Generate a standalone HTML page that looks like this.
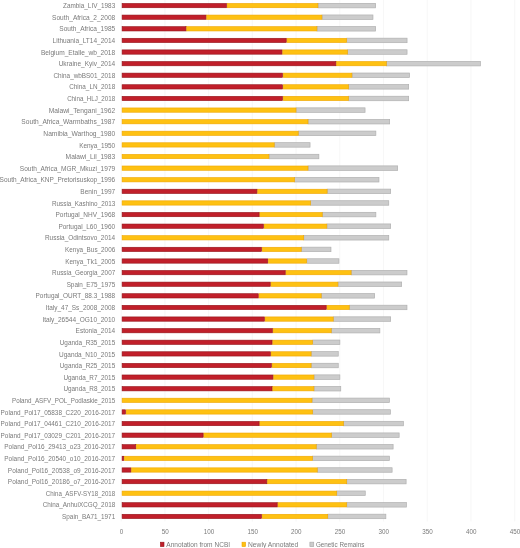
<!DOCTYPE html>
<html><head><meta charset="utf-8"><title>chart</title>
<style>html,body{margin:0;padding:0;background:#fff}svg{display:block;will-change:transform}text{font-family:"Liberation Sans",sans-serif;fill:#7a7a7a}</style></head><body>
<svg width="520" height="548" viewBox="0 0 520 548">
<rect width="520" height="548" fill="#fff"/>
<line x1="121.20" y1="0" x2="121.20" y2="521.5" stroke="#f3f3f3" stroke-width="0.7"/>
<line x1="164.92" y1="0" x2="164.92" y2="521.5" stroke="#f3f3f3" stroke-width="0.7"/>
<line x1="208.64" y1="0" x2="208.64" y2="521.5" stroke="#f3f3f3" stroke-width="0.7"/>
<line x1="252.36" y1="0" x2="252.36" y2="521.5" stroke="#f3f3f3" stroke-width="0.7"/>
<line x1="296.08" y1="0" x2="296.08" y2="521.5" stroke="#f3f3f3" stroke-width="0.7"/>
<line x1="339.80" y1="0" x2="339.80" y2="521.5" stroke="#f3f3f3" stroke-width="0.7"/>
<line x1="383.52" y1="0" x2="383.52" y2="521.5" stroke="#f3f3f3" stroke-width="0.7"/>
<line x1="427.24" y1="0" x2="427.24" y2="521.5" stroke="#f3f3f3" stroke-width="0.7"/>
<line x1="470.96" y1="0" x2="470.96" y2="521.5" stroke="#f3f3f3" stroke-width="0.7"/>
<line x1="514.68" y1="0" x2="514.68" y2="521.5" stroke="#f3f3f3" stroke-width="0.7"/>
<rect x="318.05" y="3.35" width="57.60" height="4.50" fill="#cccccc" stroke="#b0b0b0" stroke-width="0.7"/>
<rect x="227.10" y="3.45" width="90.80" height="4.30" fill="#fec112" stroke="#efa500" stroke-width="0.6"/>
<rect x="122.10" y="3.45" width="104.40" height="4.30" fill="#c11f2a" stroke="#931319" stroke-width="0.6"/>
<rect x="322.05" y="14.96" width="50.90" height="4.50" fill="#cccccc" stroke="#b0b0b0" stroke-width="0.7"/>
<rect x="206.50" y="15.06" width="115.40" height="4.30" fill="#fec112" stroke="#efa500" stroke-width="0.6"/>
<rect x="122.10" y="15.06" width="83.80" height="4.30" fill="#c11f2a" stroke="#931319" stroke-width="0.6"/>
<rect x="317.05" y="26.57" width="58.60" height="4.50" fill="#cccccc" stroke="#b0b0b0" stroke-width="0.7"/>
<rect x="186.50" y="26.67" width="130.40" height="4.30" fill="#fec112" stroke="#efa500" stroke-width="0.6"/>
<rect x="122.10" y="26.67" width="63.80" height="4.30" fill="#c11f2a" stroke="#931319" stroke-width="0.6"/>
<rect x="346.75" y="38.18" width="60.30" height="4.50" fill="#cccccc" stroke="#b0b0b0" stroke-width="0.7"/>
<rect x="286.80" y="38.28" width="59.80" height="4.30" fill="#fec112" stroke="#efa500" stroke-width="0.6"/>
<rect x="122.10" y="38.28" width="164.10" height="4.30" fill="#c11f2a" stroke="#931319" stroke-width="0.6"/>
<rect x="347.65" y="49.79" width="59.40" height="4.50" fill="#cccccc" stroke="#b0b0b0" stroke-width="0.7"/>
<rect x="282.50" y="49.89" width="65.00" height="4.30" fill="#fec112" stroke="#efa500" stroke-width="0.6"/>
<rect x="122.10" y="49.89" width="159.80" height="4.30" fill="#c11f2a" stroke="#931319" stroke-width="0.6"/>
<rect x="386.45" y="61.40" width="93.90" height="4.50" fill="#cccccc" stroke="#b0b0b0" stroke-width="0.7"/>
<rect x="336.40" y="61.50" width="49.90" height="4.30" fill="#fec112" stroke="#efa500" stroke-width="0.6"/>
<rect x="122.10" y="61.50" width="213.70" height="4.30" fill="#c11f2a" stroke="#931319" stroke-width="0.6"/>
<rect x="352.05" y="73.01" width="57.50" height="4.50" fill="#cccccc" stroke="#b0b0b0" stroke-width="0.7"/>
<rect x="283.10" y="73.11" width="68.80" height="4.30" fill="#fec112" stroke="#efa500" stroke-width="0.6"/>
<rect x="122.10" y="73.11" width="160.40" height="4.30" fill="#c11f2a" stroke="#931319" stroke-width="0.6"/>
<rect x="348.65" y="84.62" width="60.00" height="4.50" fill="#cccccc" stroke="#b0b0b0" stroke-width="0.7"/>
<rect x="283.10" y="84.72" width="65.40" height="4.30" fill="#fec112" stroke="#efa500" stroke-width="0.6"/>
<rect x="122.10" y="84.72" width="160.40" height="4.30" fill="#c11f2a" stroke="#931319" stroke-width="0.6"/>
<rect x="348.65" y="96.23" width="60.00" height="4.50" fill="#cccccc" stroke="#b0b0b0" stroke-width="0.7"/>
<rect x="283.10" y="96.33" width="65.40" height="4.30" fill="#fec112" stroke="#efa500" stroke-width="0.6"/>
<rect x="122.10" y="96.33" width="160.40" height="4.30" fill="#c11f2a" stroke="#931319" stroke-width="0.6"/>
<rect x="296.15" y="107.84" width="68.90" height="4.50" fill="#cccccc" stroke="#b0b0b0" stroke-width="0.7"/>
<rect x="122.10" y="107.94" width="173.90" height="4.30" fill="#fec112" stroke="#efa500" stroke-width="0.6"/>
<rect x="308.15" y="119.45" width="81.50" height="4.50" fill="#cccccc" stroke="#b0b0b0" stroke-width="0.7"/>
<rect x="122.10" y="119.55" width="185.90" height="4.30" fill="#fec112" stroke="#efa500" stroke-width="0.6"/>
<rect x="298.35" y="131.06" width="77.50" height="4.50" fill="#cccccc" stroke="#b0b0b0" stroke-width="0.7"/>
<rect x="122.10" y="131.16" width="176.10" height="4.30" fill="#fec112" stroke="#efa500" stroke-width="0.6"/>
<rect x="274.35" y="142.67" width="35.70" height="4.50" fill="#cccccc" stroke="#b0b0b0" stroke-width="0.7"/>
<rect x="122.10" y="142.77" width="152.10" height="4.30" fill="#fec112" stroke="#efa500" stroke-width="0.6"/>
<rect x="269.05" y="154.28" width="49.80" height="4.50" fill="#cccccc" stroke="#b0b0b0" stroke-width="0.7"/>
<rect x="122.10" y="154.38" width="146.80" height="4.30" fill="#fec112" stroke="#efa500" stroke-width="0.6"/>
<rect x="308.15" y="165.89" width="89.50" height="4.50" fill="#cccccc" stroke="#b0b0b0" stroke-width="0.7"/>
<rect x="122.10" y="165.99" width="185.90" height="4.30" fill="#fec112" stroke="#efa500" stroke-width="0.6"/>
<rect x="294.65" y="177.50" width="84.30" height="4.50" fill="#cccccc" stroke="#b0b0b0" stroke-width="0.7"/>
<rect x="122.10" y="177.60" width="172.40" height="4.30" fill="#fec112" stroke="#efa500" stroke-width="0.6"/>
<rect x="327.25" y="189.11" width="63.40" height="4.50" fill="#cccccc" stroke="#b0b0b0" stroke-width="0.7"/>
<rect x="257.50" y="189.21" width="69.60" height="4.30" fill="#fec112" stroke="#efa500" stroke-width="0.6"/>
<rect x="122.10" y="189.21" width="134.80" height="4.30" fill="#c11f2a" stroke="#931319" stroke-width="0.6"/>
<rect x="310.65" y="200.72" width="78.10" height="4.50" fill="#cccccc" stroke="#b0b0b0" stroke-width="0.7"/>
<rect x="122.10" y="200.82" width="188.40" height="4.30" fill="#fec112" stroke="#efa500" stroke-width="0.6"/>
<rect x="322.35" y="212.33" width="53.50" height="4.50" fill="#cccccc" stroke="#b0b0b0" stroke-width="0.7"/>
<rect x="259.70" y="212.43" width="62.50" height="4.30" fill="#fec112" stroke="#efa500" stroke-width="0.6"/>
<rect x="122.10" y="212.43" width="137.00" height="4.30" fill="#c11f2a" stroke="#931319" stroke-width="0.6"/>
<rect x="326.95" y="223.94" width="63.70" height="4.50" fill="#cccccc" stroke="#b0b0b0" stroke-width="0.7"/>
<rect x="264.00" y="224.04" width="62.80" height="4.30" fill="#fec112" stroke="#efa500" stroke-width="0.6"/>
<rect x="122.10" y="224.04" width="141.30" height="4.30" fill="#c11f2a" stroke="#931319" stroke-width="0.6"/>
<rect x="303.85" y="235.55" width="84.90" height="4.50" fill="#cccccc" stroke="#b0b0b0" stroke-width="0.7"/>
<rect x="122.10" y="235.65" width="181.60" height="4.30" fill="#fec112" stroke="#efa500" stroke-width="0.6"/>
<rect x="301.35" y="247.16" width="29.60" height="4.50" fill="#cccccc" stroke="#b0b0b0" stroke-width="0.7"/>
<rect x="262.10" y="247.26" width="39.10" height="4.30" fill="#fec112" stroke="#efa500" stroke-width="0.6"/>
<rect x="122.10" y="247.26" width="139.40" height="4.30" fill="#c11f2a" stroke="#931319" stroke-width="0.6"/>
<rect x="306.85" y="258.77" width="32.10" height="4.50" fill="#cccccc" stroke="#b0b0b0" stroke-width="0.7"/>
<rect x="268.30" y="258.87" width="38.40" height="4.30" fill="#fec112" stroke="#efa500" stroke-width="0.6"/>
<rect x="122.10" y="258.87" width="145.60" height="4.30" fill="#c11f2a" stroke="#931319" stroke-width="0.6"/>
<rect x="351.25" y="270.38" width="55.70" height="4.50" fill="#cccccc" stroke="#b0b0b0" stroke-width="0.7"/>
<rect x="285.80" y="270.48" width="65.30" height="4.30" fill="#fec112" stroke="#efa500" stroke-width="0.6"/>
<rect x="122.10" y="270.48" width="163.10" height="4.30" fill="#c11f2a" stroke="#931319" stroke-width="0.6"/>
<rect x="338.05" y="281.99" width="63.60" height="4.50" fill="#cccccc" stroke="#b0b0b0" stroke-width="0.7"/>
<rect x="270.80" y="282.09" width="67.10" height="4.30" fill="#fec112" stroke="#efa500" stroke-width="0.6"/>
<rect x="122.10" y="282.09" width="148.10" height="4.30" fill="#c11f2a" stroke="#931319" stroke-width="0.6"/>
<rect x="321.35" y="293.60" width="53.30" height="4.50" fill="#cccccc" stroke="#b0b0b0" stroke-width="0.7"/>
<rect x="258.80" y="293.70" width="62.40" height="4.30" fill="#fec112" stroke="#efa500" stroke-width="0.6"/>
<rect x="122.10" y="293.70" width="136.10" height="4.30" fill="#c11f2a" stroke="#931319" stroke-width="0.6"/>
<rect x="349.35" y="305.21" width="57.60" height="4.50" fill="#cccccc" stroke="#b0b0b0" stroke-width="0.7"/>
<rect x="326.80" y="305.31" width="22.40" height="4.30" fill="#fec112" stroke="#efa500" stroke-width="0.6"/>
<rect x="122.10" y="305.31" width="204.10" height="4.30" fill="#c11f2a" stroke="#931319" stroke-width="0.6"/>
<rect x="333.35" y="316.82" width="57.30" height="4.50" fill="#cccccc" stroke="#b0b0b0" stroke-width="0.7"/>
<rect x="264.90" y="316.92" width="68.30" height="4.30" fill="#fec112" stroke="#efa500" stroke-width="0.6"/>
<rect x="122.10" y="316.92" width="142.20" height="4.30" fill="#c11f2a" stroke="#931319" stroke-width="0.6"/>
<rect x="331.35" y="328.43" width="48.50" height="4.50" fill="#cccccc" stroke="#b0b0b0" stroke-width="0.7"/>
<rect x="272.90" y="328.53" width="58.30" height="4.30" fill="#fec112" stroke="#efa500" stroke-width="0.6"/>
<rect x="122.10" y="328.53" width="150.20" height="4.30" fill="#c11f2a" stroke="#931319" stroke-width="0.6"/>
<rect x="312.75" y="340.04" width="27.10" height="4.50" fill="#cccccc" stroke="#b0b0b0" stroke-width="0.7"/>
<rect x="272.60" y="340.14" width="40.00" height="4.30" fill="#fec112" stroke="#efa500" stroke-width="0.6"/>
<rect x="122.10" y="340.14" width="149.90" height="4.30" fill="#c11f2a" stroke="#931319" stroke-width="0.6"/>
<rect x="311.25" y="351.65" width="27.00" height="4.50" fill="#cccccc" stroke="#b0b0b0" stroke-width="0.7"/>
<rect x="270.90" y="351.75" width="40.20" height="4.30" fill="#fec112" stroke="#efa500" stroke-width="0.6"/>
<rect x="122.10" y="351.75" width="148.20" height="4.30" fill="#c11f2a" stroke="#931319" stroke-width="0.6"/>
<rect x="311.25" y="363.26" width="27.00" height="4.50" fill="#cccccc" stroke="#b0b0b0" stroke-width="0.7"/>
<rect x="272.00" y="363.36" width="39.10" height="4.30" fill="#fec112" stroke="#efa500" stroke-width="0.6"/>
<rect x="122.10" y="363.36" width="149.30" height="4.30" fill="#c11f2a" stroke="#931319" stroke-width="0.6"/>
<rect x="314.05" y="374.87" width="25.80" height="4.50" fill="#cccccc" stroke="#b0b0b0" stroke-width="0.7"/>
<rect x="273.50" y="374.97" width="40.40" height="4.30" fill="#fec112" stroke="#efa500" stroke-width="0.6"/>
<rect x="122.10" y="374.97" width="150.80" height="4.30" fill="#c11f2a" stroke="#931319" stroke-width="0.6"/>
<rect x="314.05" y="386.48" width="26.70" height="4.50" fill="#cccccc" stroke="#b0b0b0" stroke-width="0.7"/>
<rect x="272.60" y="386.58" width="41.30" height="4.30" fill="#fec112" stroke="#efa500" stroke-width="0.6"/>
<rect x="122.10" y="386.58" width="149.90" height="4.30" fill="#c11f2a" stroke="#931319" stroke-width="0.6"/>
<rect x="312.15" y="398.09" width="77.20" height="4.50" fill="#cccccc" stroke="#b0b0b0" stroke-width="0.7"/>
<rect x="122.10" y="398.19" width="189.90" height="4.30" fill="#fec112" stroke="#efa500" stroke-width="0.6"/>
<rect x="312.75" y="409.70" width="77.60" height="4.50" fill="#cccccc" stroke="#b0b0b0" stroke-width="0.7"/>
<rect x="126.10" y="409.80" width="186.50" height="4.30" fill="#fec112" stroke="#efa500" stroke-width="0.6"/>
<rect x="122.10" y="409.80" width="3.40" height="4.30" fill="#c11f2a" stroke="#931319" stroke-width="0.6"/>
<rect x="343.60" y="421.31" width="59.75" height="4.50" fill="#cccccc" stroke="#b0b0b0" stroke-width="0.7"/>
<rect x="259.70" y="421.41" width="83.75" height="4.30" fill="#fec112" stroke="#efa500" stroke-width="0.6"/>
<rect x="122.10" y="421.41" width="137.00" height="4.30" fill="#c11f2a" stroke="#931319" stroke-width="0.6"/>
<rect x="331.60" y="432.92" width="67.55" height="4.50" fill="#cccccc" stroke="#b0b0b0" stroke-width="0.7"/>
<rect x="203.70" y="433.02" width="127.75" height="4.30" fill="#fec112" stroke="#efa500" stroke-width="0.6"/>
<rect x="122.10" y="433.02" width="81.00" height="4.30" fill="#c11f2a" stroke="#931319" stroke-width="0.6"/>
<rect x="316.35" y="444.53" width="76.75" height="4.50" fill="#cccccc" stroke="#b0b0b0" stroke-width="0.7"/>
<rect x="136.30" y="444.63" width="179.90" height="4.30" fill="#fec112" stroke="#efa500" stroke-width="0.6"/>
<rect x="122.10" y="444.63" width="13.60" height="4.30" fill="#c11f2a" stroke="#931319" stroke-width="0.6"/>
<rect x="312.60" y="456.14" width="76.75" height="4.50" fill="#cccccc" stroke="#b0b0b0" stroke-width="0.7"/>
<rect x="124.30" y="456.24" width="188.15" height="4.30" fill="#fec112" stroke="#efa500" stroke-width="0.6"/>
<rect x="122.10" y="456.24" width="1.60" height="4.30" fill="#c11f2a" stroke="#931319" stroke-width="0.6"/>
<rect x="317.35" y="467.75" width="74.75" height="4.50" fill="#cccccc" stroke="#b0b0b0" stroke-width="0.7"/>
<rect x="131.40" y="467.85" width="185.80" height="4.30" fill="#fec112" stroke="#efa500" stroke-width="0.6"/>
<rect x="122.10" y="467.85" width="8.70" height="4.30" fill="#c11f2a" stroke="#931319" stroke-width="0.6"/>
<rect x="346.85" y="479.36" width="59.25" height="4.50" fill="#cccccc" stroke="#b0b0b0" stroke-width="0.7"/>
<rect x="267.40" y="479.46" width="79.30" height="4.30" fill="#fec112" stroke="#efa500" stroke-width="0.6"/>
<rect x="122.10" y="479.46" width="144.70" height="4.30" fill="#c11f2a" stroke="#931319" stroke-width="0.6"/>
<rect x="336.85" y="490.97" width="28.40" height="4.50" fill="#cccccc" stroke="#b0b0b0" stroke-width="0.7"/>
<rect x="122.10" y="491.07" width="214.60" height="4.30" fill="#fec112" stroke="#efa500" stroke-width="0.6"/>
<rect x="346.85" y="502.58" width="59.50" height="4.50" fill="#cccccc" stroke="#b0b0b0" stroke-width="0.7"/>
<rect x="277.80" y="502.68" width="68.90" height="4.30" fill="#fec112" stroke="#efa500" stroke-width="0.6"/>
<rect x="122.10" y="502.68" width="155.10" height="4.30" fill="#c11f2a" stroke="#931319" stroke-width="0.6"/>
<rect x="327.85" y="514.19" width="58.00" height="4.50" fill="#cccccc" stroke="#b0b0b0" stroke-width="0.7"/>
<rect x="262.10" y="514.29" width="65.60" height="4.30" fill="#fec112" stroke="#efa500" stroke-width="0.6"/>
<rect x="122.10" y="514.29" width="139.40" height="4.30" fill="#c11f2a" stroke="#931319" stroke-width="0.6"/>
<g opacity="0.999">
<text x="63.06" y="8.20" font-size="6.6" textLength="52.14" lengthAdjust="spacingAndGlyphs">Zambia_LIV_1983</text>
<text x="52.10" y="19.81" font-size="6.6" textLength="63.10" lengthAdjust="spacingAndGlyphs">South_Africa_2_2008</text>
<text x="59.34" y="31.42" font-size="6.6" textLength="55.86" lengthAdjust="spacingAndGlyphs">South_Africa_1985</text>
<text x="52.62" y="43.03" font-size="6.6" textLength="62.58" lengthAdjust="spacingAndGlyphs">Lithuania_LT14_2014</text>
<text x="40.93" y="54.64" font-size="6.6" textLength="74.27" lengthAdjust="spacingAndGlyphs">Belgium_Etalle_wb_2018</text>
<text x="58.64" y="66.25" font-size="6.6" textLength="56.56" lengthAdjust="spacingAndGlyphs">Ukraine_Kyiv_2014</text>
<text x="53.48" y="77.86" font-size="6.6" textLength="61.72" lengthAdjust="spacingAndGlyphs">China_wbBS01_2018</text>
<text x="69.26" y="89.47" font-size="6.6" textLength="45.94" lengthAdjust="spacingAndGlyphs">China_LN_2018</text>
<text x="67.13" y="101.08" font-size="6.6" textLength="48.07" lengthAdjust="spacingAndGlyphs">China_HLJ_2018</text>
<text x="48.79" y="112.69" font-size="6.6" textLength="66.41" lengthAdjust="spacingAndGlyphs">Malawi_Tengani_1962</text>
<text x="21.39" y="124.30" font-size="6.6" textLength="93.81" lengthAdjust="spacingAndGlyphs">South_Africa_Warmbaths_1987</text>
<text x="43.30" y="135.91" font-size="6.6" textLength="71.90" lengthAdjust="spacingAndGlyphs">Namibia_Warthog_1980</text>
<text x="79.19" y="147.52" font-size="6.6" textLength="36.01" lengthAdjust="spacingAndGlyphs">Kenya_1950</text>
<text x="65.61" y="159.13" font-size="6.6" textLength="49.59" lengthAdjust="spacingAndGlyphs">Malawi_Lil_1983</text>
<text x="19.85" y="170.74" font-size="6.6" textLength="95.35" lengthAdjust="spacingAndGlyphs">South_Africa_MGR_Mkuzi_1979</text>
<text x="-0.40" y="182.35" font-size="6.6" textLength="115.60" lengthAdjust="spacingAndGlyphs">South_Africa_KNP_Pretorisuskop_1996</text>
<text x="80.30" y="193.96" font-size="6.6" textLength="34.90" lengthAdjust="spacingAndGlyphs">Benin_1997</text>
<text x="52.00" y="205.57" font-size="6.6" textLength="63.20" lengthAdjust="spacingAndGlyphs">Russia_Kashino_2013</text>
<text x="55.50" y="217.18" font-size="6.6" textLength="59.70" lengthAdjust="spacingAndGlyphs">Portugal_NHV_1968</text>
<text x="58.39" y="228.79" font-size="6.6" textLength="56.81" lengthAdjust="spacingAndGlyphs">Portugal_L60_1960</text>
<text x="44.96" y="240.40" font-size="6.6" textLength="70.24" lengthAdjust="spacingAndGlyphs">Russia_Odintsovo_2014</text>
<text x="65.10" y="252.01" font-size="6.6" textLength="50.10" lengthAdjust="spacingAndGlyphs">Kenya_Bus_2006</text>
<text x="65.17" y="263.62" font-size="6.6" textLength="50.03" lengthAdjust="spacingAndGlyphs">Kenya_Tk1_2005</text>
<text x="52.08" y="275.23" font-size="6.6" textLength="63.12" lengthAdjust="spacingAndGlyphs">Russia_Georgia_2007</text>
<text x="66.65" y="286.84" font-size="6.6" textLength="48.55" lengthAdjust="spacingAndGlyphs">Spain_E75_1975</text>
<text x="35.56" y="298.45" font-size="6.6" textLength="79.64" lengthAdjust="spacingAndGlyphs">Portugal_OURT_88.3_1988</text>
<text x="45.65" y="310.06" font-size="6.6" textLength="69.55" lengthAdjust="spacingAndGlyphs">Italy_47_Ss_2008_2008</text>
<text x="42.39" y="321.67" font-size="6.6" textLength="72.81" lengthAdjust="spacingAndGlyphs">Italy_26544_OG10_2010</text>
<text x="75.60" y="333.28" font-size="6.6" textLength="39.60" lengthAdjust="spacingAndGlyphs">Estonia_2014</text>
<text x="59.75" y="344.89" font-size="6.6" textLength="55.45" lengthAdjust="spacingAndGlyphs">Uganda_R35_2015</text>
<text x="59.00" y="356.50" font-size="6.6" textLength="56.20" lengthAdjust="spacingAndGlyphs">Uganda_N10_2015</text>
<text x="59.75" y="368.11" font-size="6.6" textLength="55.45" lengthAdjust="spacingAndGlyphs">Uganda_R25_2015</text>
<text x="63.40" y="379.72" font-size="6.6" textLength="51.80" lengthAdjust="spacingAndGlyphs">Uganda_R7_2015</text>
<text x="63.40" y="391.33" font-size="6.6" textLength="51.80" lengthAdjust="spacingAndGlyphs">Uganda_R8_2015</text>
<text x="11.99" y="402.94" font-size="6.6" textLength="103.21" lengthAdjust="spacingAndGlyphs">Poland_ASFV_POL_Podlaskie_2015</text>
<text x="0.58" y="414.55" font-size="6.6" textLength="114.62" lengthAdjust="spacingAndGlyphs">Poland_Pol17_05838_C220_2016-2017</text>
<text x="0.58" y="426.16" font-size="6.6" textLength="114.62" lengthAdjust="spacingAndGlyphs">Poland_Pol17_04461_C210_2016-2017</text>
<text x="0.58" y="437.77" font-size="6.6" textLength="114.62" lengthAdjust="spacingAndGlyphs">Poland_Pol17_03029_C201_2016-2017</text>
<text x="4.25" y="449.38" font-size="6.6" textLength="110.95" lengthAdjust="spacingAndGlyphs">Poland_Pol16_29413_o23_2016-2017</text>
<text x="4.25" y="460.99" font-size="6.6" textLength="110.95" lengthAdjust="spacingAndGlyphs">Poland_Pol16_20540_o10_2016-2017</text>
<text x="7.87" y="472.60" font-size="6.6" textLength="107.33" lengthAdjust="spacingAndGlyphs">Poland_Pol16_20538_o9_2016-2017</text>
<text x="7.87" y="484.21" font-size="6.6" textLength="107.33" lengthAdjust="spacingAndGlyphs">Poland_Pol16_20186_o7_2016-2017</text>
<text x="45.76" y="495.82" font-size="6.6" textLength="69.44" lengthAdjust="spacingAndGlyphs">China_ASFV-SY18_2018</text>
<text x="42.81" y="507.43" font-size="6.6" textLength="72.39" lengthAdjust="spacingAndGlyphs">China_AnhuiXCGQ_2018</text>
<text x="62.08" y="519.04" font-size="6.6" textLength="53.12" lengthAdjust="spacingAndGlyphs">Spain_BA71_1971</text>
<text x="119.75" y="533.80" font-size="6.6" textLength="3.50" lengthAdjust="spacingAndGlyphs">0</text>
<text x="161.72" y="533.80" font-size="6.6" textLength="7.01" lengthAdjust="spacingAndGlyphs">50</text>
<text x="203.68" y="533.80" font-size="6.6" textLength="10.51" lengthAdjust="spacingAndGlyphs">100</text>
<text x="247.40" y="533.80" font-size="6.6" textLength="10.51" lengthAdjust="spacingAndGlyphs">150</text>
<text x="291.12" y="533.80" font-size="6.6" textLength="10.51" lengthAdjust="spacingAndGlyphs">200</text>
<text x="334.84" y="533.80" font-size="6.6" textLength="10.51" lengthAdjust="spacingAndGlyphs">250</text>
<text x="378.56" y="533.80" font-size="6.6" textLength="10.51" lengthAdjust="spacingAndGlyphs">300</text>
<text x="422.28" y="533.80" font-size="6.6" textLength="10.51" lengthAdjust="spacingAndGlyphs">350</text>
<text x="466.00" y="533.80" font-size="6.6" textLength="10.51" lengthAdjust="spacingAndGlyphs">400</text>
<text x="509.72" y="533.80" font-size="6.6" textLength="10.51" lengthAdjust="spacingAndGlyphs">450</text>
<rect x="160.4" y="542.2" width="3.6" height="4.4" fill="#c11f2a" stroke="#931319" stroke-width="0.6"/>
<text x="166.30" y="546.90" font-size="6.6" textLength="63.78" lengthAdjust="spacingAndGlyphs">Annotation from NCBI</text>
<rect x="242" y="542.2" width="3.6" height="4.4" fill="#fec112" stroke="#efa500" stroke-width="0.6"/>
<text x="248.00" y="546.90" font-size="6.6" textLength="50.32" lengthAdjust="spacingAndGlyphs">Newly Annotated</text>
<rect x="309.9" y="542.2" width="3.8" height="4.4" fill="#cccccc" stroke="#acacac" stroke-width="0.7"/>
<text x="315.90" y="546.90" font-size="6.6" textLength="48.43" lengthAdjust="spacingAndGlyphs">Genetic Remains</text>
</g>
</svg></body></html>
